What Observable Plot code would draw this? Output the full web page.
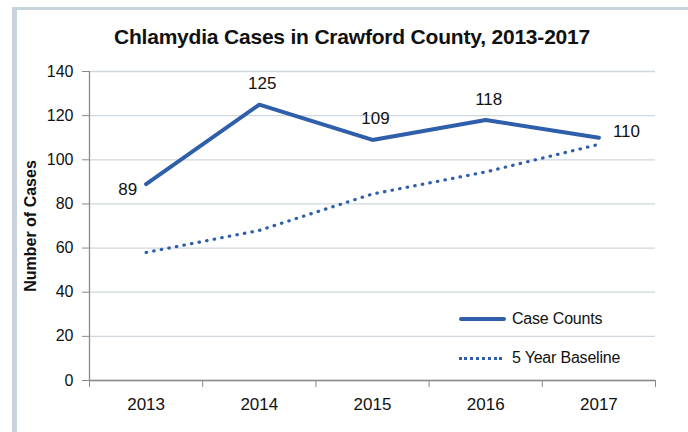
<!DOCTYPE html>
<html>
<head>
<meta charset="utf-8">
<script src="https://cdn.jsdelivr.net/npm/d3@7"></script>
<script src="https://cdn.jsdelivr.net/npm/@observablehq/plot@0.6"></script>
<style>
  html, body { margin: 0; padding: 0; background: #fff; }
  body { width: 688px; height: 432px; position: relative; overflow: hidden; font-family: "Liberation Sans", Arial, sans-serif; }
  #frameL { position: absolute; left: 12px; top: 7px; width: 5px; height: 425px; background: #c9d3da; }
  #frameT { position: absolute; left: 12px; top: 7px; width: 676px; height: 3px; background: #c9d3da; }
  #title { position: absolute; left: 0; top: 0; width: 688px; height: 55px; text-align: center; line-height: 1; box-sizing: border-box; padding-top: 26px; padding-left: 16px; font-size: 21px; font-weight: bold; color: #111; letter-spacing: -0.2px; }
  #chart { position: absolute; left: 0; top: 55px; }
  #chart svg { overflow: visible; }
  #chart g[aria-label="y-axis label"] text { font-weight: bold; font-size: 16px; }
  #legend { position: absolute; left: 459px; top: 308px; font-size: 16px; color: #111; letter-spacing: -0.2px; }
  .item { display: flex; align-items: center; height: 22px; margin-bottom: 17px; }
  .sw { width: 47px; margin-right: 6px; }
  .solid { border-top: 4px solid #2f5faa; border-radius: 2px; }
  .dotted { border-top: 3.5px dotted #2f5faa; width: 43px; margin-right: 10px; }
</style>
</head>
<body>
<div id="frameL"></div>
<div id="frameT"></div>
<div id="title">Chlamydia Cases in Crawford County, 2013-2017</div>
<div id="chart"></div>
<div id="legend">
  <div class="item"><div class="sw solid"></div><span>Case Counts</span></div>
  <div class="item"><div class="sw dotted"></div><span>5 Year Baseline</span></div>
</div>
<script>
const years = [2013, 2014, 2015, 2016, 2017];
const caseCounts = [89, 125, 109, 118, 110];
const baseline = [58, 68, 84.5, 94.5, 107];
const labelSide = ["left", "top", "top", "top", "right"];
const yTicks = [0, 20, 40, 60, 80, 100, 120, 140];

const cases = years.map((y, i) => ({year: y, value: caseCounts[i], side: labelSide[i]}));
const base = years.map((y, i) => ({year: y, value: baseline[i]}));
const bounds = [years[0] - 0.5, ...years.map(y => y + 0.5)];

const blue = "#2f5faa";
const axisGrey = "#8a8a8a";

const chart = Plot.plot({
  width: 688,
  height: 377,
  marginTop: 16,
  marginBottom: 52,
  marginLeft: 89,
  marginRight: 33,
  style: {fontFamily: "'Liberation Sans', Arial, sans-serif", fontSize: "16px", color: "#111", background: "transparent"},
  x: {type: "linear", domain: [bounds[0], bounds[bounds.length - 1]]},
  y: {domain: [0, 140]},
  marks: [
    Plot.gridY(yTicks, {stroke: "#cfd8de", strokeOpacity: 1, strokeWidth: 1.3}),
    Plot.ruleX([bounds[0]], {stroke: axisGrey, strokeWidth: 1.3}),
    Plot.ruleY([0], {stroke: axisGrey, strokeWidth: 1.3}),
    Plot.axisY({ticks: yTicks, tickSize: 7, tickPadding: 9, stroke: axisGrey, label: "Number of Cases", labelAnchor: "center", labelArrow: "none", labelOffset: 65, fontSize: 16}),
    Plot.axisX({ticks: bounds, tickFormat: () => "", tickSize: 7, stroke: axisGrey, label: null}),
    Plot.axisX({ticks: years, tickFormat: d => String(d), tickSize: 0, tickPadding: 17, label: null, fontSize: 17}),
    Plot.line(base, {x: "year", y: "value", stroke: blue, strokeWidth: 3.2, strokeDasharray: "0.5 7.2", strokeLinecap: "round"}),
    Plot.line(cases, {x: "year", y: "value", stroke: blue, strokeWidth: 4, strokeLinejoin: "miter"}),
    Plot.text(cases.filter(d => d.side === "top"), {x: "year", y: "value", text: d => String(d.value), dx: 3, dy: -21, fontSize: 17, fill: "#111"}),
    Plot.text(cases.filter(d => d.side === "left"), {x: "year", y: "value", text: d => String(d.value), dx: -9, dy: 5, textAnchor: "end", fontSize: 17, fill: "#111"}),
    Plot.text(cases.filter(d => d.side === "right"), {x: "year", y: "value", text: d => String(d.value), dx: 14, dy: -6, textAnchor: "start", fontSize: 17, fill: "#111"})
  ]
});
document.getElementById("chart").appendChild(chart);
</script>
</body>
</html>
